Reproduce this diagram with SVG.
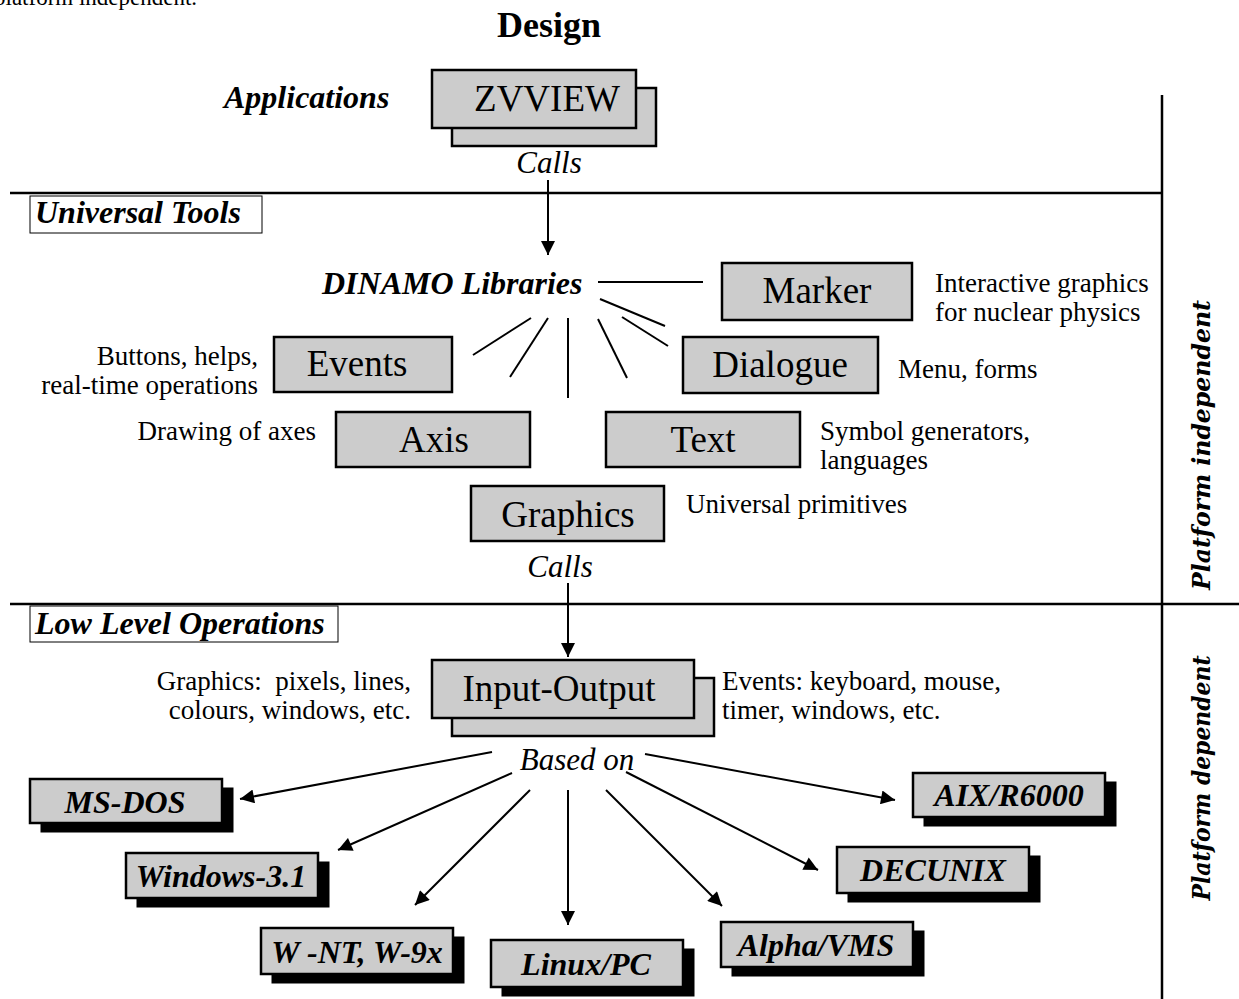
<svg xmlns="http://www.w3.org/2000/svg" width="1239" height="999" viewBox="0 0 1239 999">
<defs>
<style>
text{font-family:"Liberation Serif","Times New Roman",serif;fill:#000}
.box{fill:#cccccc;stroke:#000;stroke-width:2.5}
.sh{fill:#000;stroke:#000;stroke-width:1}
.lbl{font-size:37px;text-anchor:middle}
.plat{font-size:32px;font-weight:bold;font-style:italic;text-anchor:middle}
.bi{font-size:32px;font-weight:bold;font-style:italic}
.it{font-size:31px;font-style:italic;text-anchor:middle}
.d{font-size:27px}
.r{text-anchor:end}
.ln{stroke:#000;stroke-width:2;fill:none}
.sep{stroke:#000;stroke-width:2.5;fill:none}
.side{font-family:"DejaVu Serif",serif;font-style:italic;font-weight:bold;font-size:24px;text-anchor:middle}
</style>
<marker id="ah" viewBox="0 0 10 10" refX="10" refY="5" markerUnits="userSpaceOnUse" markerWidth="16" markerHeight="14" orient="auto">
<path d="M0,0 L10,5 L0,10 z" fill="#000"/>
</marker>
</defs>
<rect width="1239" height="999" fill="#fff"/>
<text x="-6" y="5" style="font-size:23px">platform independent.</text>
<text x="549" y="37" style="font-size:36px;font-weight:bold;text-anchor:middle">Design</text>
<g id="frame">
<line class="sep" x1="10" y1="193" x2="1162" y2="193"/>
<line class="sep" x1="10" y1="604" x2="1239" y2="604"/>
<line class="sep" x1="1162" y1="95" x2="1162" y2="999"/>
<text class="side" transform="translate(1210,445) rotate(-90)" textLength="290" lengthAdjust="spacingAndGlyphs">Platform independent</text>
<text class="side" transform="translate(1210,778) rotate(-90)" textLength="245" lengthAdjust="spacingAndGlyphs">Platform dependent</text>
</g>
<g id="applications"><text class="bi" x="224" y="108">Applications</text></g>
<g id="zvview">
<rect class="box" x="452" y="88" width="204" height="58"/>
<rect class="box" x="432" y="70" width="204" height="58"/>
<text class="lbl" x="547" y="111">ZVVIEW</text>
</g>
<g id="calls1"><text class="it" x="549" y="173">Calls</text></g>
<g id="universal-tools">
<rect x="30" y="196" width="232" height="37" fill="#fff" stroke="#000" stroke-width="1"/>
<text class="bi" x="35" y="223">Universal Tools</text>
</g>
<g id="dinamo"><text class="bi" x="322" y="294">DINAMO Libraries</text></g>
<g id="marker">
<rect class="box" x="722" y="263" width="190" height="57"/>
<text class="lbl" x="817" y="303">Marker</text>
<text class="d" x="935" y="292">Interactive graphics</text>
<text class="d" x="935" y="321">for nuclear physics</text>
</g>
<g id="events">
<rect class="box" x="274" y="337" width="178" height="55"/>
<text class="lbl" x="357" y="376">Events</text>
<text class="d r" x="258" y="365">Buttons, helps,</text>
<text class="d r" x="258" y="394">real-time operations</text>
</g>
<g id="dialogue">
<rect class="box" x="683" y="337" width="195" height="56"/>
<text class="lbl" x="780" y="377">Dialogue</text>
<text class="d" x="898" y="378">Menu, forms</text>
</g>
<g id="axis">
<rect class="box" x="336" y="412" width="194" height="55"/>
<text class="lbl" x="434" y="452">Axis</text>
<text class="d r" x="316" y="440">Drawing of axes</text>
</g>
<g id="text">
<rect class="box" x="606" y="412" width="194" height="55"/>
<text class="lbl" x="703" y="452">Text</text>
<text class="d" x="820" y="440">Symbol generators,</text>
<text class="d" x="820" y="469">languages</text>
</g>
<g id="graphics">
<rect class="box" x="471" y="486" width="193" height="55"/>
<text class="lbl" x="568" y="527">Graphics</text>
<text class="d" x="686" y="513">Universal primitives</text>
</g>
<g id="calls2"><text class="it" x="560" y="577">Calls</text></g>
<g id="low-level">
<rect x="30" y="606" width="308" height="36" fill="#fff" stroke="#000" stroke-width="1"/>
<text class="bi" x="35" y="634">Low Level Operations</text>
</g>
<g id="input-output">
<rect class="box" x="452" y="678" width="262" height="58"/>
<rect class="box" x="432" y="660" width="262" height="58"/>
<text class="lbl" x="559" y="701">Input-Output</text>
<text class="d r" x="411" y="690">Graphics:&#160; pixels, lines,</text>
<text class="d r" x="411" y="719">colours, windows, etc.</text>
<text class="d" x="722" y="690">Events: keyboard, mouse,</text>
<text class="d" x="722" y="719">timer, windows, etc.</text>
</g>
<g id="based-on"><text class="it" x="577" y="770">Based on</text></g>
<g id="ms-dos"><rect class="sh" x="41" y="788" width="192" height="44"/><rect class="box" x="30" y="779" width="192" height="44"/><text class="plat" x="125" y="813">MS-DOS</text></g>
<g id="windows31"><rect class="sh" x="137" y="862" width="192" height="45"/><rect class="box" x="126" y="853" width="192" height="45"/><text class="plat" x="221" y="887">Windows-3.1</text></g>
<g id="wnt"><rect class="sh" x="272" y="937" width="192" height="46"/><rect class="box" x="261" y="928" width="192" height="46"/><text class="plat" x="357" y="963">W -NT, W-9x</text></g>
<g id="linux"><rect class="sh" x="502" y="949" width="192" height="47"/><rect class="box" x="491" y="940" width="192" height="47"/><text class="plat" x="586" y="975">Linux/PC</text></g>
<g id="alpha"><rect class="sh" x="732" y="931" width="192" height="45"/><rect class="box" x="721" y="922" width="192" height="45"/><text class="plat" x="816" y="956">Alpha/VMS</text></g>
<g id="decunix"><rect class="sh" x="848" y="856" width="192" height="46"/><rect class="box" x="837" y="847" width="192" height="46"/><text class="plat" x="933" y="881">DECUNIX</text></g>
<g id="aix"><rect class="sh" x="924" y="782" width="192" height="44"/><rect class="box" x="913" y="773" width="192" height="44"/><text class="plat" x="1009" y="806">AIX/R6000</text></g>
<g id="connectors">
<line class="ln" x1="548" y1="180" x2="548" y2="255" marker-end="url(#ah)"/>
<line class="ln" x1="568" y1="583" x2="568" y2="657" marker-end="url(#ah)"/>
<line class="ln" x1="598" y1="282" x2="703" y2="282"/>
<line class="ln" x1="600" y1="299" x2="665" y2="326"/>
<line class="ln" x1="473" y1="355" x2="531" y2="318"/>
<line class="ln" x1="510" y1="377" x2="548" y2="318"/>
<line class="ln" x1="568" y1="318" x2="568" y2="398"/>
<line class="ln" x1="598" y1="319" x2="627" y2="378"/>
<line class="ln" x1="622" y1="317" x2="668" y2="346"/>
<line class="ln" x1="492" y1="752" x2="240" y2="799" marker-end="url(#ah)"/>
<line class="ln" x1="512" y1="773" x2="338" y2="850" marker-end="url(#ah)"/>
<line class="ln" x1="530" y1="790" x2="415" y2="905" marker-end="url(#ah)"/>
<line class="ln" x1="568" y1="790" x2="568" y2="925" marker-end="url(#ah)"/>
<line class="ln" x1="606" y1="790" x2="722" y2="906" marker-end="url(#ah)"/>
<line class="ln" x1="626" y1="772" x2="818" y2="870" marker-end="url(#ah)"/>
<line class="ln" x1="645" y1="754" x2="895" y2="800" marker-end="url(#ah)"/>
</g>
</svg>
